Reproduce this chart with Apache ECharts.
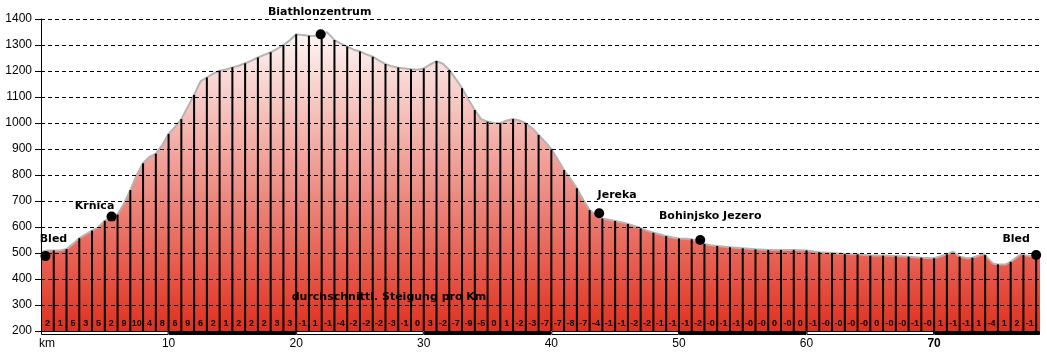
<!DOCTYPE html>
<html>
<head>
<meta charset="utf-8">
<title>Höhenprofil Bled - Bohinj</title>
<script src="https://cdn.jsdelivr.net/npm/echarts@6/dist/echarts.min.js"></script>
<style>
  html, body { margin: 0; padding: 0; background: #fff; }
  #chart { width: 1047px; height: 353px; }
</style>
</head>
<body>
<div id="chart"></div>
<script>
// Streckenprofil: km / Höhe (m)
var dist = [0, 0.5, 1, 1.5, 2, 2.5, 3, 3.5, 4, 4.5, 5, 5.5, 6, 6.5, 7, 7.5, 8, 8.5, 9, 9.5,
  10, 10.5, 11, 11.5, 12, 12.5, 13, 13.5, 14, 14.5, 15, 15.5, 16, 16.5, 17, 17.5, 18, 18.5, 19, 19.5,
  20, 20.5, 21, 21.5, 22, 22.4, 22.7, 23, 23.5, 24, 24.5, 25, 25.5, 26, 26.5, 27, 27.5, 28, 28.5, 29, 29.5,
  30, 30.5, 31, 31.5, 32, 32.5, 33, 33.5, 34, 34.5, 35, 35.5, 36, 36.5, 37, 37.5, 38, 38.5, 39, 39.5,
  40, 40.5, 41, 41.5, 42, 42.5, 43, 43.5, 44, 44.5, 45, 45.5, 46, 46.5, 47, 47.5, 48, 48.5, 49, 49.5,
  50, 50.5, 51, 51.5, 52, 52.5, 53, 54, 55, 56, 57, 58, 59,
  60, 61, 62, 63, 64, 65, 66, 67, 68, 69,
  70, 71, 71.5, 72, 72.6, 73, 73.9, 74, 74.6, 75, 75.6, 76, 76.8, 77, 77.5, 78, 78.3];
var elev = [505, 510, 510, 510, 515, 535, 557, 572, 586, 600, 624, 638, 648, 690, 742, 800, 845, 870, 882, 915,
  958, 985, 1015, 1062, 1108, 1160, 1175, 1190, 1201, 1206, 1214, 1220, 1230, 1240, 1252, 1262, 1272, 1285, 1300, 1318,
  1341, 1338, 1336, 1335, 1342, 1349, 1335, 1319, 1305, 1294, 1282, 1275, 1264, 1255, 1240, 1227, 1218, 1213, 1210, 1207, 1205,
  1210, 1225, 1238, 1228, 1204, 1170, 1134, 1090, 1050, 1015, 1005, 1000, 999, 1010, 1015, 1010, 999, 980, 954, 928,
  899, 860, 819, 785, 749, 705, 665, 645, 633, 628, 623, 618, 612, 604, 595, 586, 578, 572, 565, 560,
  556, 555, 553, 545, 535, 530, 527, 522, 518, 514, 512, 512, 512,
  510, 503, 500, 496, 495, 490, 490, 488, 486, 482,
  480, 495, 505, 486, 480, 482, 496, 492, 460, 456, 456, 466, 496, 492, 488, 486, 486];

// durchschnittl. Steigung pro km (%), km 0-1 ... km 77-78
var grade = ['2', '1', '5', '3', '5', '2', '9', '10', '4', '8',
  '6', '9', '6', '2', '1', '2', '2', '2', '3', '3',
  '-1', '1', '-1', '-4', '-2', '-2', '-2', '-3', '-1', '0',
  '3', '-2', '-7', '-9', '-5', '0', '1', '-2', '-3', '-7',
  '-7', '-8', '-7', '-4', '-1', '-1', '-2', '-2', '-1', '-1',
  '-1', '-2', '-0', '-1', '-1', '-0', '-0', '0', '-0', '0',
  '-1', '-0', '-0', '-0', '-0', '0', '-0', '-0', '-1', '-0',
  '1', '-1', '-1', '1', '-4', '1', '2', '-1'];

// Orte
var placeName = ['Bled', 'Krnica', 'Biathlonzentrum', 'Jereka', 'Bohinjsko Jezero', 'Bled'];
var placeKm = [0.35, 5.53, 21.92, 43.75, 51.67, 78.0];
var placeElev = [488, 640, 1341, 653, 550, 492];

// Maßstabsbalken (km)
var scaleSteps = [0, 10, 20, 30, 40, 50, 60, 70, 78.3];

var chart = echarts.init(document.getElementById('chart'));

var labelFont = '"DejaVu Sans", Verdana, sans-serif';
var axisFont = '"Liberation Sans", Arial, sans-serif';
var placeOffset = [[8, -17], [-17, -10], [-1, -22], [18, -18], [10, -24], [-20, -16]];
var gradeY = 227;

var profile = dist.map(function (d, i) { return [d, elev[i]]; });
var kmLines = profile.filter(function (p) { return p[0] > 0 && p[0] % 1 === 0; });
var gradeData = grade.map(function (g, i) { return [i + 0.5, gradeY]; });
var places = placeName.map(function (n, i) {
  return {
    name: n,
    value: [placeKm[i], placeElev[i]],
    label: { offset: placeOffset[i] }
  };
});
var bars = [];
for (var i = 0; i < scaleSteps.length - 1; i++) {
  bars.push([scaleSteps[i], scaleSteps[i + 1], i % 2]);
}

var option = {
  animation: false,
  grid: [
    { left: 41, right: 7, top: 19, height: 312 },
    { left: 41, right: 7, top: 331, height: 4 }
  ],
  xAxis: [
    { type: 'value', gridIndex: 0, min: 0, max: 78.3, show: false },
    {
      type: 'value', gridIndex: 1, min: 0, max: 78.3, interval: 10,
      axisLine: { show: false }, axisTick: { show: false }, splitLine: { show: false },
      showMaxLabel: false,
      axisLabel: {
        margin: 3, color: '#000', fontFamily: axisFont, fontSize: 12,
        formatter: function (v) {
          if (v === 0) return '{km|km}';
          if (v === 70) return '{b|70}';
          return v % 10 === 0 ? String(v) : '';
        },
        rich: {
          km: { padding: [0, 0, 0, 12], fontFamily: axisFont, fontSize: 12, color: '#000' },
          b: { fontWeight: 'bold', fontFamily: axisFont, fontSize: 12, color: '#000' }
        }
      }
    }
  ],
  yAxis: [
    {
      type: 'value', gridIndex: 0, min: 200, max: 1400, interval: 100, z: 4,
      axisLine: { show: true, lineStyle: { color: '#000', width: 1 } },
      axisTick: { show: true, length: 6, lineStyle: { color: '#000' } },
      axisLabel: {
        margin: 9, color: '#000', fontFamily: axisFont, fontSize: 12,
        formatter: function (v) { return String(v); }
      },
      splitLine: { show: true, lineStyle: { color: '#000', width: 1, type: [4, 3] } }
    },
    { type: 'value', gridIndex: 1, min: 0, max: 1, show: false }
  ],
  graphic: [{
    type: 'text', x: 389, y: 297, z: 10,
    style: {
      text: 'durchschnittl. Steigung pro Km',
      font: 'bold 11px ' + labelFont,
      fill: '#000', align: 'center', verticalAlign: 'middle'
    }
  }],
  series: [
    {
      type: 'line', xAxisIndex: 0, yAxisIndex: 0, data: profile,
      symbol: 'none', z: 2,
      lineStyle: { color: '#b4b4b4', width: 2 },
      areaStyle: {
        opacity: 1,
        color: new echarts.graphic.LinearGradient(0, 0, 0, 1, [
          { offset: 0, color: '#fdf6f5' },
          { offset: 1, color: '#e0301f' }
        ])
      }
    },
    {
      type: 'bar', xAxisIndex: 0, yAxisIndex: 0, data: kmLines,
      barWidth: 2, z: 3, itemStyle: { color: '#000' }
    },
    {
      // Steigungswerte pro km
      type: 'custom', xAxisIndex: 0, yAxisIndex: 0, data: gradeData, z: 5,
      renderItem: function (params, api) {
        var p = api.coord([api.value(0), api.value(1)]);
        return {
          type: 'text', x: p[0], y: p[1],
          style: {
            text: grade[params.dataIndex],
            fill: '#000',
            font: 'bold 9px ' + axisFont,
            align: 'center', verticalAlign: 'middle'
          }
        };
      }
    },
    {
      type: 'scatter', xAxisIndex: 0, yAxisIndex: 0, data: places,
      symbol: 'circle', symbolSize: 10, z: 6, itemStyle: { color: '#000', opacity: 1 },
      label: {
        show: true, position: 'inside', color: '#000',
        textBorderWidth: 0, textBorderColor: 'transparent',
        fontFamily: labelFont, fontSize: 11, fontWeight: 'bold',
        formatter: '{b}'
      }
    },
    {
      type: 'custom', xAxisIndex: 1, yAxisIndex: 1, data: bars,
      renderItem: function (params, api) {
        var p0 = api.coord([api.value(0), 1]);
        var p1 = api.coord([api.value(1), 0]);
        var white = api.value(2) === 0;
        return {
          type: 'rect',
          shape: { x: p0[0] + 0.5, y: p0[1] + 0.5, width: p1[0] - p0[0] - 1, height: p1[1] - p0[1] - 1 },
          style: { fill: white ? '#fff' : '#000', stroke: '#000', lineWidth: 1 }
        };
      }
    }
  ]
};

chart.setOption(option);
window.onresize = function () { chart.resize(); };
</script>
</body>
</html>
